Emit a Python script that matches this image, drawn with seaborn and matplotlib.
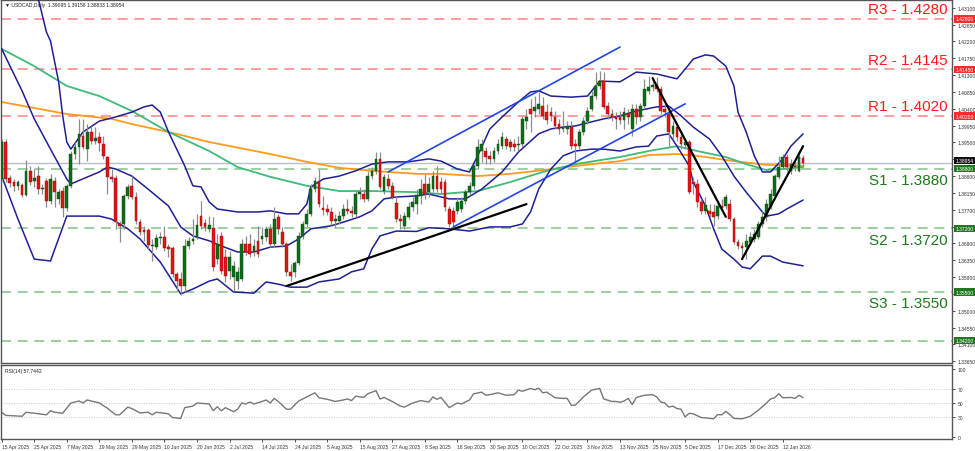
import numpy as np
import pandas as pd
import matplotlib
matplotlib.use("Agg")
import matplotlib.pyplot as plt
import seaborn as sns

# ---------------- data ----------------
date_labels = ["15 Apr 2025", "25 Apr 2025", "7 May 2025", "19 May 2025", "29 May 2025",
               "10 Jun 2025", "20 Jun 2025", "2 Jul 2025", "14 Jul 2025", "24 Jul 2025",
               "5 Aug 2025", "15 Aug 2025", "27 Aug 2025", "8 Sep 2025", "18 Sep 2025",
               "30 Sep 2025", "10 Oct 2025", "22 Oct 2025", "3 Nov 2025", "13 Nov 2025",
               "25 Nov 2025", "5 Dec 2025", "17 Dec 2025", "30 Dec 2025", "12 Jan 2026"]
date_label_bars = [0, 8, 16, 24, 32, 40, 48, 56, 64, 72, 80, 88, 96, 104, 112, 120,
                   128, 136, 144, 152, 160, 168, 176, 184, 192]

opens = [1.3852, 1.3951, 1.3855, 1.3844, 1.3834, 1.3836, 1.3809, 1.3874, 1.3847, 1.3860,
         1.3825, 1.3847, 1.3793, 1.3847, 1.3799, 1.3820, 1.3775, 1.3834, 1.3919, 1.3938,
         1.3967, 1.3932, 1.3978, 1.3954, 1.3964, 1.3946, 1.3911, 1.3858, 1.3855, 1.3732,
         1.3732, 1.3807, 1.3834, 1.3804, 1.3737, 1.3716, 1.3716, 1.3673, 1.3670, 1.3695,
         1.3697, 1.3670, 1.3668, 1.3598, 1.3585, 1.3566, 1.3673, 1.3687, 1.3697, 1.3753,
         1.3735, 1.3719, 1.3721, 1.3638, 1.3700, 1.3644, 1.3606, 1.3590, 1.3579, 1.3585,
         1.3679, 1.3679, 1.3657, 1.3687, 1.3692, 1.3697, 1.3719, 1.3679, 1.3751, 1.3711,
         1.3679, 1.3604, 1.3604, 1.3628, 1.3700, 1.3732, 1.3759, 1.3825, 1.3847, 1.3775,
         1.3772, 1.3764, 1.3740, 1.3740, 1.3753, 1.3772, 1.3767, 1.3759, 1.3812, 1.3812,
         1.3799, 1.3860, 1.3874, 1.3906, 1.3820, 1.3852, 1.3834, 1.3788, 1.3745, 1.3727,
         1.3751, 1.3777, 1.3785, 1.3807, 1.3839, 1.3817, 1.3825, 1.3860, 1.3844, 1.3844,
         1.3772, 1.3767, 1.3767, 1.3772, 1.3793, 1.3817, 1.3834, 1.3887, 1.3927, 1.3927,
         1.3914, 1.3906, 1.3927, 1.3940, 1.3959, 1.3951, 1.3946, 1.3943, 1.3946, 1.4007,
         1.4039, 1.4034, 1.4039, 1.4047, 1.4031, 1.4031, 1.4018, 1.3999, 1.3986, 1.3986,
         1.3991, 1.3946, 1.3940, 1.3978, 1.4007, 1.4039, 1.4074, 1.4101, 1.4114, 1.4047,
         1.4026, 1.4018, 1.4018, 1.4010, 1.4029, 1.3986, 1.4039, 1.4018, 1.4047, 1.4088,
         1.4098, 1.4104, 1.4093, 1.4039, 1.4026, 1.3973, 1.3991, 1.3964, 1.3943, 1.3951,
         1.3844, 1.3839, 1.3791, 1.3767, 1.3767, 1.3764, 1.3753, 1.3780, 1.3780, 1.3785,
         1.3745, 1.3684, 1.3673, 1.3670, 1.3684, 1.3692, 1.3697, 1.3732, 1.3751, 1.3780,
         1.3807, 1.3858, 1.3884, 1.3911, 1.3874, 1.3884, 1.3874, 1.39095]
highs = [1.3959, 1.3959, 1.3863, 1.3852, 1.3850, 1.3842, 1.3903, 1.3887, 1.3879, 1.3887,
         1.3839, 1.3855, 1.3866, 1.3858, 1.3825, 1.3831, 1.3839, 1.3927, 1.3951, 1.4013,
         1.4013, 1.3999, 1.3994, 1.3991, 1.3978, 1.3967, 1.3914, 1.3879, 1.3863, 1.3740,
         1.3812, 1.3839, 1.3860, 1.3817, 1.3745, 1.3727, 1.3721, 1.3692, 1.3705, 1.3711,
         1.3727, 1.3679, 1.3673, 1.3604, 1.3604, 1.3692, 1.3697, 1.3745, 1.3759, 1.3793,
         1.3745, 1.3753, 1.3751, 1.3705, 1.3711, 1.3665, 1.3660, 1.3633, 1.3617, 1.3692,
         1.3700, 1.3705, 1.3692, 1.3727, 1.3724, 1.3727, 1.3732, 1.3777, 1.3759, 1.3724,
         1.3684, 1.3625, 1.3633, 1.3711, 1.3740, 1.3772, 1.3839, 1.3858, 1.3879, 1.3807,
         1.3785, 1.3777, 1.3759, 1.3767, 1.3785, 1.3799, 1.3780, 1.3820, 1.3831, 1.3825,
         1.3874, 1.3884, 1.3924, 1.3924, 1.3866, 1.3866, 1.3844, 1.3807, 1.3759, 1.3764,
         1.3791, 1.3804, 1.3825, 1.3852, 1.3866, 1.3858, 1.3874, 1.3887, 1.3858, 1.3852,
         1.3780, 1.3777, 1.3804, 1.3804, 1.3825, 1.3844, 1.3892, 1.3959, 1.3959, 1.3938,
         1.3927, 1.3938, 1.3959, 1.3978, 1.3967, 1.3959, 1.3959, 1.3967, 1.4021, 1.4039,
         1.4066, 1.4074, 1.4085, 1.4071, 1.4053, 1.4045, 1.4034, 1.4013, 1.4034, 1.4007,
         1.4007, 1.3959, 1.3986, 1.4018, 1.4045, 1.4088, 1.4138, 1.4141, 1.4138, 1.4058,
         1.4039, 1.4031, 1.4034, 1.4045, 1.4039, 1.4053, 1.4053, 1.4055, 1.4120, 1.4128,
         1.4120, 1.4125, 1.4101, 1.4053, 1.4034, 1.4007, 1.3999, 1.3973, 1.3959, 1.3956,
         1.3858, 1.3852, 1.3799, 1.3804, 1.3785, 1.3785, 1.3793, 1.3799, 1.3812, 1.3799,
         1.3751, 1.3692, 1.3684, 1.3705, 1.3711, 1.3719, 1.3740, 1.3767, 1.3799, 1.3825,
         1.3866, 1.3914, 1.3919, 1.3919, 1.3906, 1.3900, 1.3924, 1.39158]
lows = [1.3847, 1.3844, 1.3831, 1.3820, 1.3823, 1.3804, 1.3807, 1.3836, 1.3831, 1.3812,
        1.3812, 1.3777, 1.3785, 1.3777, 1.3785, 1.3751, 1.3767, 1.3828, 1.3906, 1.3892,
        1.3932, 1.3900, 1.3946, 1.3946, 1.3927, 1.3906, 1.3812, 1.3844, 1.3719, 1.3684,
        1.3719, 1.3799, 1.3799, 1.3732, 1.3703, 1.3687, 1.3665, 1.3633, 1.3665, 1.3679,
        1.3660, 1.3644, 1.3590, 1.3553, 1.3542, 1.3550, 1.3665, 1.3679, 1.3692, 1.3719,
        1.3713, 1.3711, 1.3606, 1.3625, 1.3598, 1.3577, 1.3585, 1.3553, 1.3558, 1.3579,
        1.3649, 1.3644, 1.3646, 1.3644, 1.3679, 1.3687, 1.3670, 1.3670, 1.3705, 1.3670,
        1.3593, 1.3579, 1.3590, 1.3622, 1.3692, 1.3724, 1.3753, 1.3817, 1.3777, 1.3756,
        1.3756, 1.3729, 1.3724, 1.3732, 1.3745, 1.3759, 1.3751, 1.3751, 1.3799, 1.3791,
        1.3793, 1.3852, 1.3866, 1.3825, 1.3812, 1.3825, 1.3799, 1.3737, 1.3719, 1.3719,
        1.3745, 1.3767, 1.3759, 1.3785, 1.3799, 1.3804, 1.3817, 1.3817, 1.3812, 1.3767,
        1.3724, 1.3724, 1.3759, 1.3764, 1.3785, 1.3809, 1.3825, 1.3879, 1.3898, 1.3892,
        1.3892, 1.3898, 1.3919, 1.3932, 1.3932, 1.3927, 1.3927, 1.3927, 1.3938, 1.3986,
        1.3978, 1.4018, 1.4026, 1.4013, 1.3999, 1.4007, 1.3986, 1.3973, 1.3978, 1.3973,
        1.3932, 1.3898, 1.3932, 1.3970, 1.3999, 1.4034, 1.4066, 1.4093, 1.4039, 1.4013,
        1.4007, 1.3986, 1.3999, 1.3986, 1.3999, 1.3967, 1.3999, 1.4007, 1.4039, 1.4080,
        1.4088, 1.4085, 1.4026, 1.4018, 1.3940, 1.3959, 1.3954, 1.3932, 1.3932, 1.3812,
        1.3812, 1.3777, 1.3759, 1.3759, 1.3751, 1.3727, 1.3745, 1.3767, 1.3772, 1.3740,
        1.3679, 1.3665, 1.3646, 1.3638, 1.3676, 1.3684, 1.3692, 1.3724, 1.3740, 1.3772,
        1.3799, 1.3852, 1.3879, 1.3874, 1.3866, 1.3874, 1.3871, 1.38833]
closes = [1.3951, 1.3852, 1.3842, 1.3834, 1.3844, 1.3809, 1.3874, 1.3844, 1.3855, 1.3825,
          1.3828, 1.3793, 1.3852, 1.3817, 1.3817, 1.3775, 1.3834, 1.3919, 1.3938, 1.3973,
          1.3938, 1.3978, 1.3954, 1.3962, 1.3948, 1.3914, 1.3858, 1.3852, 1.3740, 1.3727,
          1.3807, 1.3831, 1.3804, 1.3740, 1.3711, 1.3711, 1.3676, 1.3676, 1.3695, 1.3697,
          1.3668, 1.3665, 1.3598, 1.3579, 1.3566, 1.3673, 1.3687, 1.3692, 1.3729, 1.3727,
          1.3724, 1.3729, 1.3617, 1.3679, 1.3606, 1.3593, 1.3644, 1.3620, 1.3604, 1.3679,
          1.3657, 1.3652, 1.3673, 1.3652, 1.3700, 1.3719, 1.3679, 1.3745, 1.3719, 1.3679,
          1.3604, 1.3593, 1.3628, 1.3700, 1.3732, 1.3759, 1.3825, 1.3847, 1.3785, 1.3769,
          1.3764, 1.3740, 1.3745, 1.3753, 1.3772, 1.3767, 1.3761, 1.3812, 1.3817, 1.3799,
          1.3860, 1.3874, 1.3906, 1.3831, 1.3858, 1.3834, 1.3804, 1.3745, 1.3740, 1.3753,
          1.3777, 1.3791, 1.3809, 1.3825, 1.3812, 1.3839, 1.3860, 1.3825, 1.3825, 1.3777,
          1.3732, 1.3737, 1.3791, 1.3793, 1.3817, 1.3834, 1.3887, 1.3938, 1.3946, 1.3911,
          1.3906, 1.3927, 1.3946, 1.3964, 1.3940, 1.3938, 1.3938, 1.3946, 1.4013, 1.4018,
          1.4026, 1.4045, 1.4053, 1.4021, 1.4010, 1.4021, 1.3994, 1.3986, 1.3991, 1.3994,
          1.3940, 1.3940, 1.3978, 1.4007, 1.4034, 1.4074, 1.4101, 1.4114, 1.4045, 1.4026,
          1.4018, 1.4013, 1.4010, 1.4031, 1.4018, 1.4039, 1.4018, 1.4047, 1.4093, 1.4098,
          1.4104, 1.4093, 1.4034, 1.4031, 1.3978, 1.3994, 1.3964, 1.3946, 1.3951, 1.3817,
          1.3839, 1.3791, 1.3767, 1.3783, 1.3759, 1.3751, 1.3780, 1.3775, 1.3804, 1.3745,
          1.3684, 1.3673, 1.3668, 1.3687, 1.3697, 1.3705, 1.3732, 1.3751, 1.3785, 1.3812,
          1.3860, 1.3884, 1.3911, 1.3884, 1.3892, 1.3887, 1.3911, 1.38954]

# Bollinger bands (20) read at sparse bars
bb_up_bar = [0, 5, 9, 11, 12, 14, 15, 16, 17, 20, 24, 28, 32, 35, 37, 39, 41, 45, 47, 49,
             51, 53, 58, 63, 66, 70, 73, 75, 76, 79, 83, 87, 91, 95, 100, 105, 108, 112, 115, 117,
             120, 123, 127, 130, 132, 135, 140, 144, 147, 152, 156, 161, 166, 168, 170, 173, 175, 178, 180, 181,
             183, 185, 187, 189, 192, 194, 197]
bb_up_val = [1.4539, 1.4440, 1.4334, 1.4245, 1.4221, 1.4112, 1.4021, 1.3951, 1.3932, 1.3978,
             1.4007, 1.4018, 1.4031, 1.4045, 1.4050, 1.4031, 1.3978, 1.3887, 1.3834, 1.3831,
             1.3791, 1.3772, 1.3764, 1.3764, 1.3767, 1.3759, 1.3759, 1.3785, 1.3831, 1.3852,
             1.3860, 1.3874, 1.3892, 1.3898, 1.3898, 1.3906, 1.3900, 1.3879, 1.3871, 1.3914,
             1.3986, 1.4018, 1.4058, 1.4085, 1.4088, 1.4074, 1.4071, 1.4074, 1.4114, 1.4112,
             1.4138, 1.4133, 1.4120, 1.4146, 1.4173, 1.4184, 1.4181, 1.4154, 1.4101, 1.4031,
             1.3978, 1.3914, 1.3871, 1.3871, 1.3906, 1.3940, 1.3973]
bb_mid_bar = [0, 5, 8, 12, 16, 17, 24, 26, 28, 32, 36, 41, 44, 47, 51, 54, 58, 62, 66, 70,
              73, 76, 81, 84, 88, 91, 94, 97, 102, 105, 110, 114, 118, 123, 127, 132, 135, 138, 141, 145,
              148, 152, 156, 161, 164, 167, 170, 174, 177, 180, 183, 187, 188, 191, 193, 197]
bb_mid_val = [1.4200, 1.4088, 1.4013, 1.3932, 1.3852, 1.3839, 1.3871, 1.3884, 1.3879, 1.3860,
              1.3825, 1.3780, 1.3724, 1.3700, 1.3687, 1.3673, 1.3657, 1.3657, 1.3670, 1.3673,
              1.3692, 1.3719, 1.3727, 1.3737, 1.3751, 1.3767, 1.3799, 1.3804, 1.3807, 1.3812,
              1.3799, 1.3799, 1.3825, 1.3871, 1.3924, 1.3973, 1.3986, 1.3991, 1.3994, 1.4005,
              1.4013, 1.4021, 1.4034, 1.4045, 1.4047, 1.4021, 1.3991, 1.3959, 1.3914, 1.3860,
              1.3817, 1.3764, 1.3753, 1.3759, 1.3772, 1.3796]
bb_low_bar = [0, 4, 8, 12, 16, 20, 24, 27, 31, 34, 39, 44, 47, 51, 53, 57, 62, 65, 68, 71,
              75, 78, 83, 86, 89, 91, 93, 97, 102, 105, 110, 115, 120, 125, 128, 130, 132, 135, 138, 141,
              145, 148, 152, 156, 159, 161, 164, 166, 169, 170, 173, 175, 177, 180, 182, 184, 187, 189, 192, 197]
bb_low_val = [1.3860, 1.3745, 1.3638, 1.3633, 1.3753, 1.3753, 1.3753, 1.3745, 1.3719, 1.3692,
              1.3630, 1.3545, 1.3558, 1.3579, 1.3585, 1.3550, 1.3547, 1.3577, 1.3571, 1.3563,
              1.3563, 1.3577, 1.3585, 1.3604, 1.3612, 1.3665, 1.3700, 1.3713, 1.3712, 1.3722,
              1.3719, 1.3713, 1.3724, 1.3724, 1.3732, 1.3764, 1.3825, 1.3879, 1.3914, 1.3927,
              1.3932, 1.3932, 1.3927, 1.3938, 1.3940, 1.3967, 1.3973, 1.3940, 1.3887, 1.3844,
              1.3780, 1.3719, 1.3665, 1.3638, 1.3617, 1.3612, 1.3646, 1.3646, 1.3630, 1.3620]

# moving averages read at sparse bars
ma_orange_bar = [0, 16, 27, 32, 41, 51, 66, 75, 83, 91, 102, 108, 117, 125, 133, 141, 152, 159, 166, 171, 180, 188, 197]
ma_orange_val = [1.4058, 1.4026, 1.4013, 1.3999, 1.3978, 1.3951, 1.3919, 1.3898, 1.3882, 1.3874,
                 1.3866, 1.3866, 1.3860, 1.3866, 1.3876, 1.3887, 1.3900, 1.3916, 1.3919, 1.3914,
                 1.3900, 1.3890, 1.3887]
ma_green_bar = [0, 8, 16, 24, 32, 41, 51, 58, 66, 75, 83, 91, 102, 108, 117, 125, 133, 141, 152, 159,
                166, 171, 178, 183, 188, 192, 197]
ma_green_val = [1.4200, 1.4154, 1.4101, 1.4074, 1.4034, 1.3978, 1.3927, 1.3884, 1.3858, 1.3834,
                1.3820, 1.3820, 1.3817, 1.3812, 1.3820, 1.3844, 1.3871, 1.3892, 1.3911, 1.3927,
                1.3940, 1.3927, 1.3911, 1.3892, 1.3876, 1.3879, 1.3884]

# trend lines (bar, price) end points
blue_upper = ([95, 152], [1.3871, 1.4205])
blue_lower = ([111, 168], [1.3724, 1.4053])
black_lines = [([70, 129], [1.3566, 1.3785]),
               ([160, 178], [1.4122, 1.3751]),
               ([182, 197], [1.3638, 1.3940])]

# levels
level_names = ["R3", "R2", "R1", "S1", "S2", "S3"]
level_values = [1.4280, 1.4145, 1.4020, 1.3880, 1.3720, 1.3550]
extra_level = 1.3420
last_price = 1.38954

price_ticks = [1.33650, 1.34100, 1.34550, 1.35000, 1.35450, 1.35900, 1.36350, 1.36800,
               1.37250, 1.37700, 1.38150, 1.38600, 1.39050, 1.39500, 1.39950, 1.40400,
               1.40850, 1.41300, 1.41750, 1.42200, 1.42650, 1.43100]
hidden_tick_labels = [1.35450, 1.37250, 1.39050]   # covered by price boxes in the reference

# RSI(14) read at bars
rsi_bar = [0, 1, 5, 6, 8, 11, 12, 13, 15, 17, 19, 20, 21, 23, 24, 26, 28, 29, 31, 32,
           34, 36, 37, 38, 40, 41, 42, 44, 45, 47, 48, 51, 52, 53, 54, 55, 57, 58, 59, 60,
           61, 62, 64, 65, 66, 67, 68, 70, 71, 73, 75, 77, 78, 80, 82, 84, 85, 86, 87, 89,
           90, 92, 93, 94, 96, 98, 99, 101, 103, 105, 106, 107, 108, 110, 112, 113, 115, 116, 118, 119,
           120, 122, 124, 126, 127, 128, 130, 131, 132, 133, 134, 136, 138, 139, 140, 141, 142, 143, 145, 147,
           148, 150, 151, 152, 153, 154, 155, 156, 158, 160, 161, 162, 163, 164, 165, 166, 167, 168, 169, 170,
           172, 173, 175, 176, 177, 178, 179, 180, 182, 184, 185, 186, 188, 189, 190, 191, 192, 194, 195, 196, 197]
rsi_val = [36.4, 31.8, 30.5, 36.4, 35.0, 32.7, 38.6, 36.4, 35.0, 50.0, 53.0, 50.0, 54.5, 51.4, 50.0, 42.3, 32.7, 32.7, 44.0, 41.8,
           35.5, 36.4, 32.7, 36.4, 35.0, 34.0, 28.6, 27.3, 43.2, 45.5, 50.0, 48.6, 38.6, 44.5, 38.6, 43.2, 37.3, 40.9, 50.0, 48.6,
           51.4, 48.6, 52.3, 54.5, 50.0, 56.8, 52.3, 40.9, 40.9, 53.0, 59.0, 65.0, 57.7, 55.5, 52.3, 54.5, 55.9, 53.6, 60.0, 58.2,
           63.6, 68.2, 55.9, 58.2, 52.3, 45.5, 44.0, 50.0, 53.6, 51.4, 59.0, 55.5, 58.2, 43.2, 50.0, 48.6, 54.5, 63.6, 66.0, 61.4,
           62.3, 65.0, 61.4, 62.3, 69.0, 67.3, 71.4, 69.5, 71.8, 65.0, 66.0, 57.7, 56.8, 56.8, 46.8, 46.8, 53.0, 59.0, 69.0, 71.4,
           55.9, 52.3, 52.3, 51.0, 53.0, 56.8, 47.7, 58.2, 61.4, 62.3, 59.0, 51.4, 50.0, 44.0, 45.5, 41.8, 40.9, 29.5, 35.0, 34.0,
           28.6, 28.2, 26.8, 33.0, 32.7, 37.7, 33.0, 27.3, 26.8, 30.5, 35.0, 39.5, 50.0, 55.9, 57.7, 63.6, 57.7, 58.2, 56.8, 61.4, 57.74]
rsi_levels = [30, 50, 70]
rsi_ticks = [0, 30, 50, 70, 100]

# ---------------- style ----------------
sns.set_theme(style="white")
plt.rcParams['font.family'] = ['Liberation Sans', 'DejaVu Sans']

W, H = 975, 452
fig = plt.figure(figsize=(W / 100, H / 100), dpi=100)
fig.patch.set_facecolor("white")
ax = fig.add_axes([1 / W, 88 / H, 951 / W, 363 / H])
axr = fig.add_axes([1 / W, 12 / H, 951 / W, 74 / H])

XMIN, XMAX = -0.17, 233.6
ax.set_xlim(XMIN, XMAX)
ax.set_ylim(1.33602, 1.43308)
axr.set_xlim(XMIN, XMAX)
axr.set_ylim(-2.9, 105.9)

for a in (ax, axr):
    a.set_facecolor("white")
    for s in a.spines.values():
        s.set_color("#555555")
        s.set_linewidth(1.0)

# levels
red_line = "#ff8c8c"
green_line = "#8cc78c"
for name, val in zip(level_names, level_values):
    col = red_line if name.startswith("R") else green_line
    ax.axhline(val, color=col, lw=1.2, ls=(0, (6, 4)), zorder=1)
ax.axhline(extra_level, color=green_line, lw=1.2, ls=(0, (6, 4)), zorder=1)
ax.axhline(last_price, color="#b9bfcc", lw=1.0, zorder=1)

# indicators
sns.lineplot(x=ma_orange_bar, y=ma_orange_val, ax=ax, color="#ff9a1a", lw=1.3, zorder=2)
sns.lineplot(x=ma_green_bar, y=ma_green_val, ax=ax, color="#3fba7a", lw=1.3, zorder=2)
for bx, by in ((bb_up_bar, bb_up_val), (bb_mid_bar, bb_mid_val), (bb_low_bar, bb_low_val)):
    sns.lineplot(x=bx, y=by, ax=ax, color="#1f1f96", lw=1.1, zorder=3)

# candles
df = pd.DataFrame({"o": opens, "h": highs, "l": lows, "c": closes})
df["i"] = np.arange(len(df))
up = df["c"] >= df["o"]
ax.vlines(df["i"], df["l"], df["h"], color="#8c8c8c", lw=0.9, zorder=4)
body_lo = np.minimum(df["o"], df["c"])
body_h = np.maximum(np.abs(df["c"] - df["o"]), 0.00008)
ax.bar(df["i"][up], body_h[up], bottom=body_lo[up], width=0.68, color="#0f6b18",
       edgecolor="#0a4a10", linewidth=0.3, zorder=5)
ax.bar(df["i"][~up], body_h[~up], bottom=body_lo[~up], width=0.68, color="#e01515",
       edgecolor="#a00000", linewidth=0.3, zorder=5)

# trend lines
sns.lineplot(x=blue_upper[0], y=blue_upper[1], ax=ax, color="#2244ee", lw=1.2, zorder=6)
sns.lineplot(x=blue_lower[0], y=blue_lower[1], ax=ax, color="#2244ee", lw=1.2, zorder=6)
for bx, by in black_lines:
    sns.lineplot(x=bx, y=by, ax=ax, color="black", lw=1.6, zorder=6)

# level texts
for name, val in zip(level_names, level_values):
    txt = f"{name} - {val:.4f}"
    if name.startswith("R"):
        ax.annotate(txt, xy=(0.9955, val), xycoords=("axes fraction", "data"),
                    xytext=(0, 2), textcoords="offset points", ha="right", va="bottom",
                    color="#ff1a1a", fontsize=11, zorder=8)
    else:
        ax.annotate(txt, xy=(0.9955, val), xycoords=("axes fraction", "data"),
                    xytext=(0, -3), textcoords="offset points", ha="right", va="top",
                    color="#1d7a1d", fontsize=11, zorder=8)

# right price axis
ax.yaxis.tick_right()
ax.set_yticks(price_ticks)
ax.set_yticklabels(["" if t in hidden_tick_labels else f"{t:.5f}" for t in price_ticks])
ax.tick_params(axis="y", which="both", right=True, length=2, width=0.6, colors="#333333",
               labelsize=3.6, pad=2)
ax.set_xticks([])
ax.set_xlabel("")
ax.set_ylabel("")

box_kw = dict(boxstyle="square,pad=0.25", lw=0)
for name, val in zip(level_names, level_values):
    fc = "#ff2a2a" if name.startswith("R") else "#1f7a1f"
    ax.text(1.0035, val, f"{val:.5f}", transform=ax.get_yaxis_transform(), ha="left", va="center",
            fontsize=3.6, color="white", bbox=dict(fc=fc, **box_kw), zorder=9, clip_on=False)
ax.text(1.0035, extra_level, f"{extra_level:.5f}", transform=ax.get_yaxis_transform(), ha="left",
        va="center", fontsize=3.6, color="white", bbox=dict(fc="#1f7a1f", **box_kw), zorder=9, clip_on=False)
ax.text(1.0035, last_price, f"{last_price:.5f}", transform=ax.get_yaxis_transform(), ha="left",
        va="bottom", fontsize=3.6, color="white", bbox=dict(fc="#111111", **box_kw), zorder=9, clip_on=False)

ax.text(0.004, 0.994, "\u25bc USDCAD,Daily  1.39095 1.39158 1.38833 1.38954", transform=ax.transAxes,
        ha="left", va="top", fontsize=3.6, color="#222222")

# RSI panel
for lv in rsi_levels:
    axr.axhline(lv, color="#bbbbbb", lw=0.6, ls=(0, (1, 2)))
sns.lineplot(x=rsi_bar, y=rsi_val, ax=axr, color="#777777", lw=1.0)
axr.yaxis.tick_right()
axr.set_yticks(rsi_ticks)
axr.set_yticklabels([str(t) for t in rsi_ticks])
axr.tick_params(axis="y", right=True, length=2, width=0.6, colors="#333333", labelsize=3.6, pad=2)
axr.set_xticks(date_label_bars)
axr.set_xticklabels(date_labels, ha="left")
axr.tick_params(axis="x", bottom=True, length=2, width=0.6, colors="#333333", labelsize=3.6, pad=1.5)
axr.set_xlabel("")
axr.set_ylabel("")
axr.text(0.004, 0.96, "RSI(14) 57.7442", transform=axr.transAxes, ha="left", va="top",
         fontsize=3.6, color="#222222")

fig.savefig("out.png", dpi=100, facecolor="white")
